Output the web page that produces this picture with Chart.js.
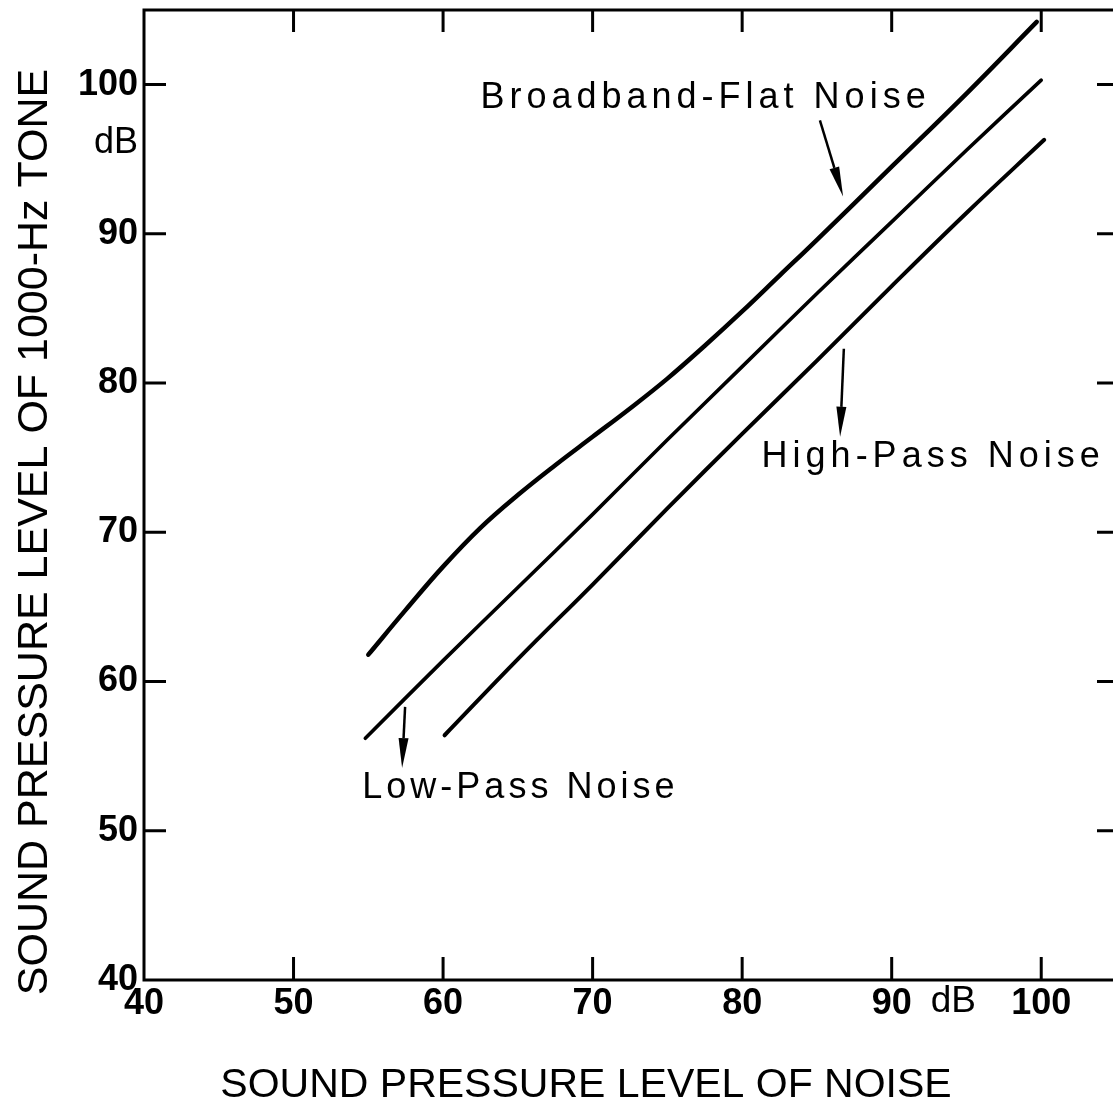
<!DOCTYPE html>
<html>
<head>
<meta charset="utf-8">
<title>Sound pressure level of 1000-Hz tone vs. noise</title>
<script src="https://cdn.jsdelivr.net/npm/chart.js"></script>
<style>
  html, body { margin: 0; padding: 0; background: #fff; overflow: hidden; }
  #wrap { width: 1120px; height: 1103px; }
</style>
</head>
<body>
<div id="wrap"><canvas id="chart" width="1120" height="1103"></canvas></div>
<script>
// values (dB)
const broadX = [55, 57.5, 60, 62.5, 65, 67.5, 70, 72.5, 75, 77.5, 80, 82.5, 85, 90, 95, 99.7];
const broadY = [61.8, 64.8, 67.7, 70.3, 72.5, 74.5, 76.4, 78.3, 80.3, 82.5, 84.8, 87.2, 89.6, 94.5, 99.4, 104.2];
const lowX = [54.8, 60, 65, 70, 75, 80, 85, 90, 95, 100];
const lowY = [56.2, 61.4, 66.3, 71.2, 76.2, 81.1, 86.0, 90.8, 95.6, 100.3];
const highX = [60.1, 65, 70, 75, 80, 85, 90, 95, 100.2];
const highY = [56.4, 61.5, 66.5, 71.6, 76.6, 81.5, 86.5, 91.4, 96.3];
const xTicks = [40, 50, 60, 70, 80, 90, 100];
const yTicks = [40, 50, 60, 70, 80, 90, 100];

const xTitle = 'SOUND PRESSURE LEVEL OF NOISE';
const yTitle = 'SOUND PRESSURE LEVEL OF 1000-Hz TONE';

// curve labels with arrows (in data units)
const notes = [
  { text: 'Broadband-Flat Noise', at: [62.5, 98.45], from: [85.2, 97.6], to: [86.75, 92.5], sp: 5 },
  { text: 'High-Pass Noise', at: [81.3, 74.4], from: [86.8, 82.3], to: [86.55, 76.4], sp: 5 },
  { text: 'Low-Pass Noise', at: [54.6, 52.2], from: [57.46, 58.3], to: [57.26, 54.2], sp: 4 }
];

const FONT = '"Liberation Sans", Arial, Helvetica, sans-serif';

function pts(xs, ys) { return xs.map((x, i) => ({ x: x, y: ys[i] })); }

function arrow(ctx, x1, y1, x2, y2) {
  const ang = Math.atan2(y2 - y1, x2 - x1);
  const len = 30, half = 5;
  const bx = x2 - len * Math.cos(ang), by = y2 - len * Math.sin(ang);
  ctx.beginPath();
  ctx.moveTo(x1, y1); ctx.lineTo(bx, by);
  ctx.lineWidth = 2.5;
  ctx.stroke();
  ctx.beginPath();
  ctx.moveTo(x2, y2);
  ctx.lineTo(bx + half * Math.sin(ang), by - half * Math.cos(ang));
  ctx.lineTo(bx - half * Math.sin(ang), by + half * Math.cos(ang));
  ctx.closePath();
  ctx.fill();
}

const decor = {
  id: 'decor',
  afterDraw(chart) {
    const { ctx, chartArea: a } = chart;
    const xs = chart.scales.x, ys = chart.scales.y;
    ctx.save();
    ctx.strokeStyle = '#000';
    ctx.fillStyle = '#000';

    // frame + inward ticks
    ctx.lineWidth = 3;
    ctx.strokeRect(a.left, a.top, a.right - a.left, a.bottom - a.top);
    ctx.beginPath();
    xTicks.slice(1).forEach(v => {
      const px = xs.getPixelForValue(v);
      ctx.moveTo(px, a.bottom); ctx.lineTo(px, a.bottom - 23);
      ctx.moveTo(px, a.top); ctx.lineTo(px, a.top + 22);
    });
    yTicks.slice(1).forEach(v => {
      const py = ys.getPixelForValue(v);
      ctx.moveTo(a.left, py); ctx.lineTo(a.left + 22, py);
      ctx.moveTo(a.right, py); ctx.lineTo(a.right - 19, py);
    });
    ctx.stroke();

    // unit labels
    ctx.textBaseline = 'alphabetic';
    ctx.font = '36px ' + FONT;
    ctx.textAlign = 'right';
    ctx.fillText('dB', a.left - 6, ys.getPixelForValue(100) + 68);
    ctx.font = '37px ' + FONT;
    ctx.textAlign = 'left';
    ctx.fillText('dB', xs.getPixelForValue(90) + 39, a.bottom + 32);

    // axis titles
    ctx.font = '41px ' + FONT;
    ctx.textAlign = 'center';
    ctx.fillText(xTitle, 586, 1097);
    ctx.save();
    ctx.translate(47, 532);
    ctx.rotate(-Math.PI / 2);
    ctx.font = '43px ' + FONT;
    ctx.fillText(yTitle, 0, 0);
    ctx.restore();

    // curve labels
    ctx.font = '36px ' + FONT;
    ctx.textAlign = 'left';
    notes.forEach(n => {
      ctx.letterSpacing = n.sp + 'px';
      ctx.fillText(n.text, xs.getPixelForValue(n.at[0]), ys.getPixelForValue(n.at[1]));
      arrow(ctx,
        xs.getPixelForValue(n.from[0]), ys.getPixelForValue(n.from[1]),
        xs.getPixelForValue(n.to[0]), ys.getPixelForValue(n.to[1]));
    });
    ctx.restore();
  }
};

const lineStyle = { borderColor: '#000', pointRadius: 0, fill: false,
  tension: 0.4, borderCapStyle: 'round', borderJoinStyle: 'round' };

new Chart(document.getElementById('chart'), {
  type: 'line',
  data: {
    datasets: [
      Object.assign({ label: 'Broadband-Flat Noise', data: pts(broadX, broadY), borderWidth: 4.5 }, lineStyle),
      Object.assign({ label: 'Low-Pass Noise', data: pts(lowX, lowY), borderWidth: 3.6 }, lineStyle),
      Object.assign({ label: 'High-Pass Noise', data: pts(highX, highY), borderWidth: 4 }, lineStyle)
    ]
  },
  options: {
    responsive: false,
    animation: false,
    layout: { padding: { left: 0, top: 10, right: 4, bottom: 0 } },
    plugins: { legend: { display: false }, tooltip: { enabled: false } },
    scales: {
      x: {
        type: 'linear', min: 40, max: 105,
        grid: { display: false, drawTicks: false }, border: { display: false },
        afterBuildTicks: s => { s.ticks = xTicks.map(v => ({ value: v })); },
        afterFit: s => { s.height = 123; s.paddingLeft = 0; s.paddingRight = 0; },
        ticks: { color: '#000', padding: 2, maxRotation: 0, font: { family: FONT, size: 36, weight: 'bold' } }
      },
      y: {
        type: 'linear', min: 40, max: 105,
        grid: { display: false, drawTicks: false }, border: { display: false },
        afterBuildTicks: s => { s.ticks = yTicks.map(v => ({ value: v })); },
        afterFit: s => { s.width = 144; s.paddingTop = 0; s.paddingBottom = 0; },
        ticks: { color: '#000', padding: 6, font: { family: FONT, size: 36, weight: 'bold' } }
      }
    }
  },
  plugins: [decor]
});
</script>
</body>
</html>
